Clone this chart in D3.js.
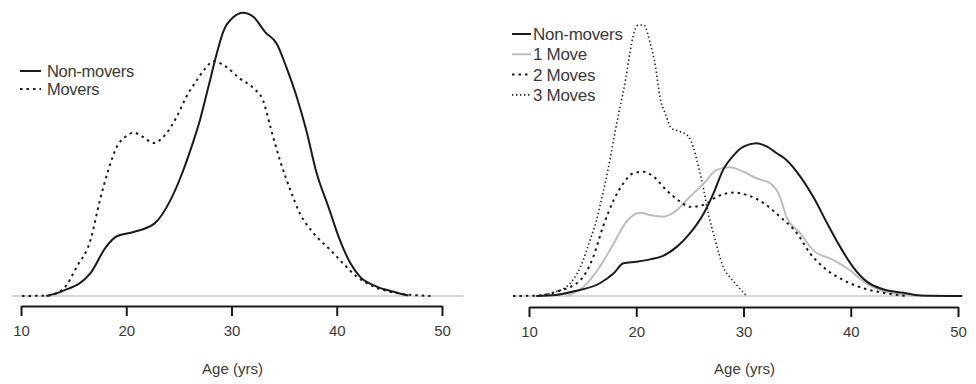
<!DOCTYPE html>
<html>
<head>
<meta charset="utf-8">
<script src="https://cdn.jsdelivr.net/npm/d3@7"></script>
<style>
  body { margin: 0; background: #fff; }
  svg text { font-family: "Liberation Sans", Arial, sans-serif; fill: #3a3a3a; }
</style>
</head>
<body>
<svg id="chart" width="976" height="384"></svg>
<script>

//// DATA (density, % per year of age)

// Left panel: Non-movers vs Movers
var leftNonMoversAge = [12.4, 14.0, 16.6, 18.1, 19.1, 20.7, 22.7, 24.2, 25.3, 26.2, 27.0, 27.8, 28.6, 29.2, 30.2, 31.1, 32.1, 33.2, 34.3, 35.2, 36.2, 37.1, 38.1, 39.2, 40.3, 41.3, 42.2, 43.8, 45.4, 46.8];
var leftNonMovers    = [0, 0.12, 0.53, 1.15, 1.39, 1.49, 1.69, 2.23, 2.85, 3.47, 4.09, 4.86, 5.64, 6.14, 6.49, 6.59, 6.49, 6.14, 5.87, 5.33, 4.63, 3.86, 2.85, 2.08, 1.30, 0.76, 0.45, 0.22, 0.10, 0.01];

var leftMoversAge = [10.1, 12.5, 14.0, 15.3, 16.6, 17.5, 18.3, 19.1, 19.9, 20.7, 21.6, 22.6, 23.8, 24.8, 25.7, 26.7, 27.5, 28.3, 29.5, 30.8, 32.1, 33.0, 33.7, 34.6, 35.6, 36.5, 37.8, 39.4, 40.6, 41.9, 43.5, 45.4, 48.9];
var leftMovers    = [0, 0.01, 0.16, 0.68, 1.30, 2.23, 2.93, 3.47, 3.70, 3.80, 3.70, 3.56, 3.78, 4.17, 4.63, 5.02, 5.29, 5.46, 5.33, 5.06, 4.83, 4.55, 3.93, 3.16, 2.46, 1.92, 1.46, 1.07, 0.76, 0.45, 0.22, 0.08, 0];

// Right panel: by number of moves
var rightNonMoversAge = [10.7, 12.5, 14.1, 16.6, 17.9, 18.8, 20.0, 21.3, 22.5, 23.8, 25.0, 26.3, 27.2, 28.1, 29.1, 30.0, 31.2, 32.2, 33.1, 34.0, 35.3, 36.5, 37.8, 39.0, 40.2, 41.5, 43.0, 44.9, 46.5, 50.4];
var rightNonMovers    = [0, 0.04, 0.19, 0.55, 0.98, 1.41, 1.48, 1.58, 1.73, 2.13, 2.70, 3.57, 4.43, 5.44, 6.08, 6.44, 6.59, 6.44, 6.16, 5.87, 5.15, 4.28, 3.14, 2.13, 1.26, 0.62, 0.29, 0.14, 0.02, 0];

var oneMoveAge = [13.5, 15.1, 16.6, 17.9, 19.1, 20.4, 21.3, 22.5, 23.8, 25.0, 26.3, 27.5, 28.7, 30.0, 31.2, 32.5, 33.4, 34.0, 35.3, 36.5, 38.4, 39.9, 41.2, 42.7, 44.6, 46.2];
var oneMove    = [0, 0.40, 1.26, 2.27, 3.21, 3.59, 3.49, 3.42, 3.71, 4.28, 4.86, 5.44, 5.55, 5.36, 5.08, 4.86, 4.28, 3.42, 2.70, 1.98, 1.55, 1.12, 0.62, 0.26, 0.07, 0];

var twoMovesAge = [8.5, 11.0, 12.6, 14.8, 16.0, 16.9, 17.9, 18.8, 19.7, 20.7, 21.6, 22.8, 24.1, 25.0, 26.3, 27.5, 29.1, 30.3, 31.9, 33.4, 35.0, 36.2, 37.4, 39.3, 41.2, 43.0, 45.2];
var twoMoves    = [0, 0.02, 0.19, 0.69, 1.70, 2.99, 4.14, 4.86, 5.29, 5.36, 5.15, 4.57, 4.07, 3.85, 3.93, 4.28, 4.46, 4.36, 4.00, 3.42, 2.70, 1.84, 1.26, 0.69, 0.33, 0.14, 0];

var threeMovesAge = [10.7, 12.0, 13.5, 14.8, 15.7, 16.3, 16.6, 17.1, 17.6, 18.0, 18.5, 19.0, 19.4, 19.7, 20.2, 20.7, 21.3, 21.8, 22.2, 22.7, 23.3, 24.1, 24.9, 25.3, 25.8, 26.3, 26.7, 27.2, 27.7, 28.1, 28.7, 29.5, 30.3];
var threeMoves    = [0, 0.12, 0.40, 1.26, 2.42, 3.28, 3.85, 4.86, 6.01, 7.02, 8.17, 9.32, 10.47, 11.19, 11.69, 11.69, 10.90, 9.89, 8.60, 7.88, 7.23, 7.09, 6.87, 6.44, 5.58, 4.57, 3.57, 2.70, 1.84, 1.26, 0.83, 0.40, 0];

// Axis ticks and labels
var ageTicks = [10, 20, 30, 40, 50];
var axisTitle = "Age (yrs)";
var leftLegendLabels = ["Non-movers", "Movers"];
var rightLegendLabels = ["Non-movers", "1 Move", "2 Moves", "3 Moves"];


//// MAIN

var svg = d3.select("#chart");

// Line styles shared by both panels
var styles = {
    solid: { stroke: "#1a1a1a", width: 2, dash: null },
    grey:  { stroke: "#bdbdbd", width: 2, dash: null },
    dash:  { stroke: "#1a1a1a", width: 2, dash: "2.5,4" },
    dot:   { stroke: "#222", width: 1.6, dash: "1.4,2.6" }
};

// Left panel
drawPanel({
    xRange: [21, 442], yMax: 6.6, yRange: [296, 12.3],
    baseX: [12, 463], axisY: 306,
    series: [
        { age: leftMoversAge, val: leftMovers, style: styles.dash },
        { age: leftNonMoversAge, val: leftNonMovers, style: styles.solid }
    ],
    legend: { x: 20, y: 71, step: 18, len: 21, gap: 27, size: 16.5,
              labels: leftLegendLabels, styles: [styles.solid, styles.dash] }
});

// Right panel
drawPanel({
    xRange: [529, 958], yMax: 11.7, yRange: [296, 24.8],
    baseX: [513, 962], axisY: 307,
    series: [
        { age: threeMovesAge, val: threeMoves, style: styles.dot },
        { age: oneMoveAge, val: oneMove, style: styles.grey },
        { age: twoMovesAge, val: twoMoves, style: styles.dash },
        { age: rightNonMoversAge, val: rightNonMovers, style: styles.solid }
    ],
    legend: { x: 512, y: 34, step: 20.3, len: 19, gap: 21, size: 17,
              labels: rightLegendLabels,
              styles: [styles.solid, styles.grey, styles.dash, styles.dot] }
});


//// FUNCTIONS

///////////////////////////////////
// Draws one density panel
function drawPanel(p){
///////////////////////////////////

    var x = d3.scaleLinear().domain([10, 50]).range(p.xRange);
    var y = d3.scaleLinear().domain([0, p.yMax]).range(p.yRange);

    var g = svg.append("g");

    // Zero line (grey, across plot region)
    g.append("line")
        .attr("x1", p.baseX[0]).attr("x2", p.baseX[1])
        .attr("y1", y(0)).attr("y2", y(0))
        .attr("stroke", "#c8c8c8").attr("stroke-width", 1.5);

    // Curves
    var line = d3.line()
        .x(function(d) { return x(d[0]); })
        .y(function(d) { return y(d[1]); })
        .curve(d3.curveMonotoneX);

    p.series.forEach(function(s){
        g.append("path")
            .attr("d", line(d3.zip(s.age, s.val)))
            .attr("fill", "none")
            .attr("stroke", s.style.stroke)
            .attr("stroke-width", s.style.width)
            .attr("stroke-dasharray", s.style.dash)
            .attr("stroke-linejoin", "round");
    });

    // Bottom axis
    var axis = d3.axisBottom(x).tickValues(ageTicks).tickSize(10).tickPadding(9).tickSizeOuter(0);
    var ax = g.append("g")
        .attr("transform", "translate(0," + p.axisY + ")")
        .call(axis);
    ax.select(".domain").attr("stroke", "#1a1a1a").attr("stroke-width", 2);
    ax.selectAll(".tick line").attr("stroke", "#1a1a1a").attr("stroke-width", 2);
    ax.selectAll(".tick text")
        .attr("font-size", 15)
        .attr("font-family", "Liberation Sans, Arial, sans-serif")
        .attr("fill", "#3a3a3a");

    // Axis title
    g.append("text")
        .attr("x", (p.xRange[0] + p.xRange[1]) / 2 + 1)
        .attr("y", 374)
        .attr("text-anchor", "middle")
        .attr("font-size", 15)
        .text(axisTitle);

    // Legend
    var lg = g.append("g");
    p.legend.labels.forEach(function(label, i){
        var ly = p.legend.y + i * p.legend.step;
        var st = p.legend.styles[i];
        lg.append("line")
            .attr("x1", p.legend.x).attr("x2", p.legend.x + p.legend.len)
            .attr("y1", ly).attr("y2", ly)
            .attr("stroke", st.stroke)
            .attr("stroke-width", st.width)
            .attr("stroke-dasharray", st.dash);
        lg.append("text")
            .attr("x", p.legend.x + p.legend.gap)
            .attr("y", ly)
            .attr("dy", "0.35em")
            .attr("font-size", p.legend.size)
            .attr("letter-spacing", -0.3)
            .text(label);
    });
}

</script>
</body>
</html>
